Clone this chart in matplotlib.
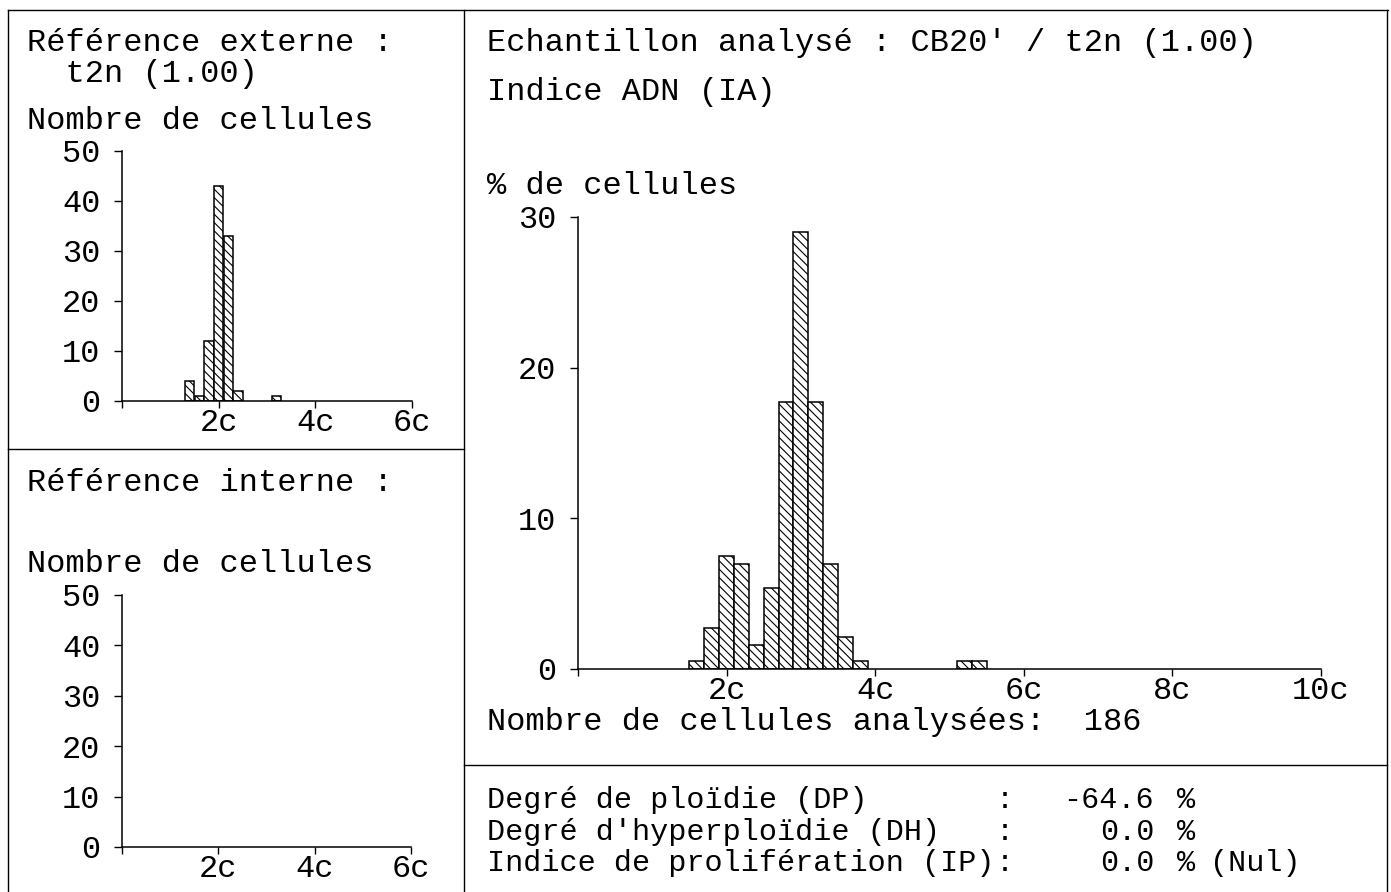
import matplotlib
matplotlib.use("Agg")
import matplotlib.pyplot as plt
from matplotlib.lines import Line2D

# ---- data -------------------------------------------------------------
# External reference (t2n): cell counts per 0.2c class
ref_ext_bins = [1.4, 1.6, 1.8, 2.0, 2.2, 2.4, 3.2]
ref_ext_counts = [4, 1, 12, 43, 33, 2, 1]

# Internal reference: no cells
ref_int_bins = []
ref_int_counts = []

# Analysed sample CB20': cell counts per 0.2c class
sample_bins = [1.6, 1.8, 2.0, 2.2, 2.4, 2.6, 2.8, 3.0, 3.2, 3.4, 3.6, 3.8, 5.2, 5.4]
sample_counts = [1, 5, 14, 13, 3, 10, 33, 54, 33, 13, 4, 1, 1, 1]
n_analysed = 186
sample_pct = [100.0 * c / n_analysed for c in sample_counts]

small_xticks = [0, 2, 4, 6]
small_xlabels = ["", "2c", "4c", "6c"]
small_yticks = [0, 10, 20, 30, 40, 50]
main_xticks = [0, 2, 4, 6, 8, 10]
main_xlabels = ["", "2c", "4c", "6c", "8c", "10c"]
main_yticks = [0, 10, 20, 30]

# summary indices
index_labels = ["Degré de ploïdie (DP)", "Degré d'hyperploïdie (DH)", "Indice de prolifération (IP)"]
index_values = ["-64.6", "0.0", "0.0"]
index_notes = ["", "", "(Nul)"]

# ---- figure -----------------------------------------------------------
plt.rcParams["font.family"] = ["Liberation Mono", "DejaVu Sans Mono"]
plt.rcParams["hatch.linewidth"] = 0.8
plt.rcParams["hatch.color"] = "black"

W, H = 1391, 892
fig = plt.figure(figsize=(W / 100, H / 100), dpi=100)
FS = 23
FS_SUM = 21.7


def fx(px):
    return px / W


def fy(py):
    return 1 - py / H


def add_axes(x0, x1, y_bottom, y_top):
    return fig.add_axes([fx(x0), fy(y_bottom), fx(x1) - fx(x0), fy(y_top) - fy(y_bottom)])


def style(ax, xmax, ymax, xticks, xlabels, yticks):
    ax.set_xlim(0, xmax)
    ax.set_ylim(0, ymax)
    ax.patch.set_alpha(0)
    for s in ("top", "right"):
        ax.spines[s].set_visible(False)
    for s in ("left", "bottom"):
        ax.spines[s].set_linewidth(1.1)
    ax.set_xticks(xticks)
    ax.set_xticklabels(xlabels)
    ax.set_yticks(yticks)
    ax.tick_params(axis="y", direction="out", length=5.5, width=1.0, pad=10, labelsize=FS)
    ax.tick_params(axis="x", direction="out", length=5, width=1.0, pad=0, labelsize=FS)


def bars(ax, bins, vals):
    if bins:
        ax.bar(bins, vals, width=0.2, facecolor="white", edgecolor="black",
               linewidth=1.1, hatch="\\\\\\\\", zorder=1)


ax_ext = add_axes(122, 412, 401, 151)
style(ax_ext, 6, 50, small_xticks, small_xlabels, small_yticks)
bars(ax_ext, ref_ext_bins, ref_ext_counts)

ax_int = add_axes(122, 411, 847, 595)
style(ax_int, 6, 50, small_xticks, small_xlabels, small_yticks)
bars(ax_int, ref_int_bins, ref_int_counts)

ax_main = add_axes(578, 1321, 669, 217)
style(ax_main, 10, 30, main_xticks, main_xlabels, main_yticks)
bars(ax_main, sample_bins, sample_pct)

# ---- text -------------------------------------------------------------
def put(x, y, s, ha="left", size=FS):
    fig.text(fx(x), fy(y), s, fontsize=size, ha=ha, va="baseline", color="black")


put(27, 51, "Référence externe :")
put(27, 82, "  t2n (1.00)")
put(27, 129, "Nombre de cellules")
put(27, 491, "Référence interne :")
put(27, 572, "Nombre de cellules")

put(487, 51, "Echantillon analysé : CB20' / t2n (1.00)")
put(487, 100, "Indice ADN (IA)")
put(487, 194, "% de cellules")
put(487, 730, f"Nombre de cellules analysées:  {n_analysed}")

for i, (lab, val, note) in enumerate(zip(index_labels, index_values, index_notes)):
    y = 808 + 31.5 * i
    put(487, y, lab, size=FS_SUM)
    put(996, y, ":", size=FS_SUM)
    put(1154, y, val, ha="right", size=FS_SUM)
    put(1177, y, "%", size=FS_SUM)
    if note:
        put(1210, y, note, size=FS_SUM)

# ---- panel frame ------------------------------------------------------
frame = [
    ((8, 10), (1388, 10)),
    ((8, 10), (8, 892)),
    ((464, 10), (464, 892)),
    ((1387, 10), (1387, 892)),
    ((8, 449), (464, 449)),
    ((464, 765), (1387, 765)),
]
for (xa, ya), (xb, yb) in frame:
    fig.add_artist(Line2D([fx(xa), fx(xb)], [fy(ya), fy(yb)], color="black", linewidth=1.0))

fig.savefig("out.png", dpi=100)
